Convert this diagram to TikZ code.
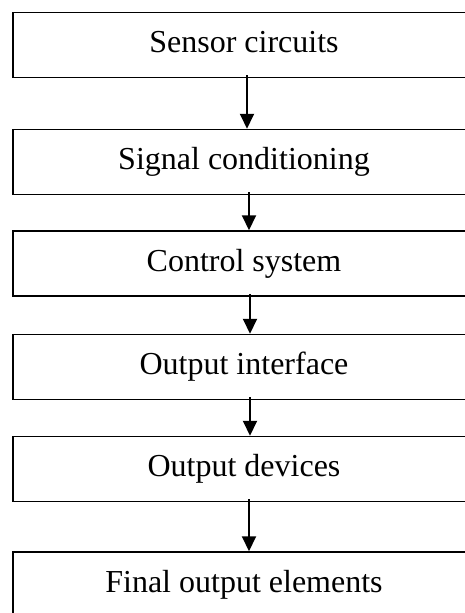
\documentclass[tikz,border=0pt]{standalone}
\usepackage{fontspec}
\setmainfont{Liberation Serif}
\usetikzlibrary{arrows.meta}
\begin{document}
\begin{tikzpicture}[x=1pt, y=-1pt, line join=miter, >={Triangle[width=14pt,length=15pt]},
	font=\fontsize{32}{38}\selectfont,
	khoi/.style={draw, line width=1.5pt, minimum width=462pt, minimum height=65pt, inner sep=0pt, text height=22pt, text depth=7pt},
	muiten/.style={->, line width=2pt}]
	\clip (0,0) rectangle (465,613);
	\path 
	(244,45) node[khoi] (sensor) {Sensor circuits}
	(244,162) node[khoi] (signal) {Signal conditioning}
	(244,263.5) node[khoi] (control) {Control system}
	(244,367) node[khoi] (interface) {Output interface}
	(244,469) node[khoi] (devices) {Output devices}
	(244,584.5) node[khoi] (final) {Final output elements}
	;
	\draw[muiten] ([xshift=3pt,yshift=3pt]sensor.south)--([xshift=3pt]signal.north);
	\draw[muiten] ([xshift=5pt,yshift=3pt]signal.south)--([xshift=5pt]control.north);
	\draw[muiten] ([xshift=6pt,yshift=3pt]control.south)--([xshift=6pt]interface.north);
	\draw[muiten] ([xshift=6pt,yshift=3pt]interface.south)--([xshift=6pt]devices.north);
	\draw[muiten] ([xshift=5pt,yshift=3pt]devices.south)--([xshift=5pt]final.north);
\end{tikzpicture}
\end{document}
